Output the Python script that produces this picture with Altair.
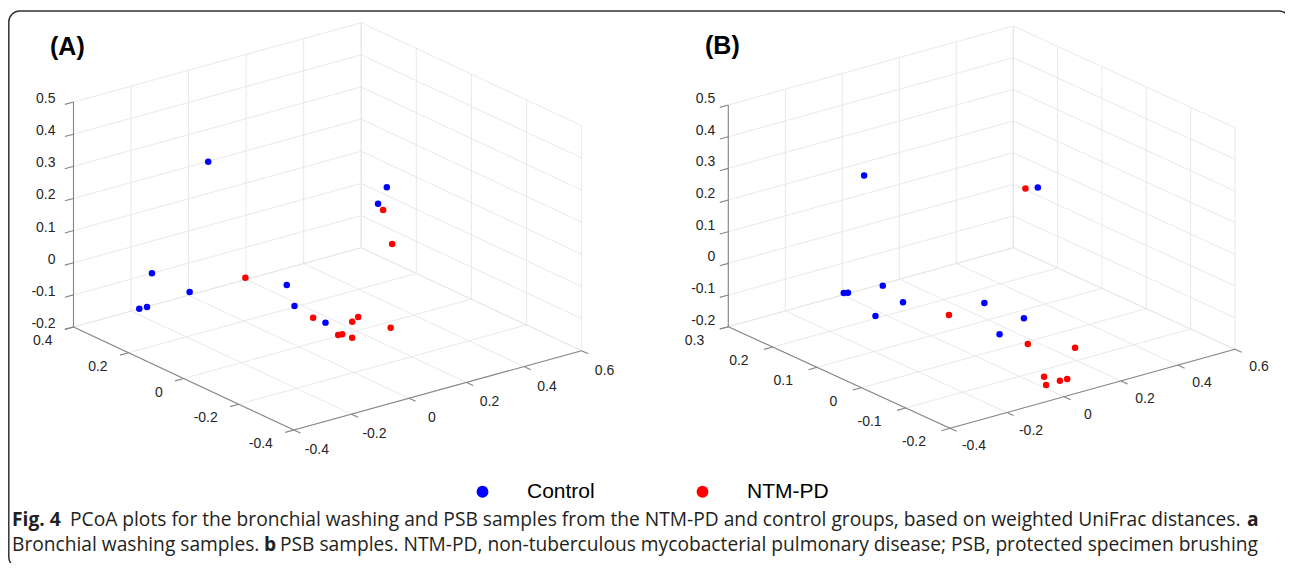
import altair as alt
import pandas as pd

W, H, M = 1277, 555, 8  # chart size and page margin

# ---------------- data ----------------
groups = ["Control", "NTM-PD"]
group_colors = ["#0000ff", "#ff0000"]

# Panel A: bronchial washing samples (PC1, PC2, PC3)
a_ctrl_x = [-0.084, 0.262, 0.241, -0.203, -0.163, -0.246, -0.221, -0.038, 0.031, 0.021]
a_ctrl_y = [0.241, -0.046, -0.036, 0.321, 0.226, 0.322, 0.320, 0.004, 0.048, -0.075]
a_ctrl_z = [0.30, 0.25, 0.20, -0.05, -0.08, -0.15, -0.15, 0.00, -0.10, -0.10]
a_ntm_x = [0.298, 0.384, -0.019, 0.092, 0.159, 0.194, 0.215, 0.066, 0.078, 0.084]
a_ntm_y = [0.005, 0.062, 0.174, 0.044, -0.028, -0.013, -0.109, -0.074, -0.076, -0.106]
a_ntm_z = [0.15, 0.00, -0.05, -0.15, -0.15, -0.15, -0.15, -0.15, -0.15, -0.15]

# Panel B: PSB samples (PC1, PC2, PC3)
b_ctrl_x = [-0.062, 0.336, -0.138, -0.128, -0.093, -0.053, -0.103, 0.122, 0.211, 0.082]
b_ctrl_y = [0.211, 0.075, 0.208, 0.205, 0.149, 0.129, 0.159, 0.058, 0.026, -0.002]
b_ctrl_z = [0.25, 0.20, -0.10, -0.10, -0.05, -0.10, -0.15, -0.10, -0.15, -0.15]
b_ntm_x = [0.305, 0.063, 0.097, 0.182, 0.022, -0.013, 0.037, 0.061]
b_ntm_y = [0.083, 0.100, -0.056, -0.108, -0.141, -0.168, -0.167, -0.168]
b_ntm_z = [0.20, -0.15, -0.15, -0.15, -0.18, -0.18, -0.18, -0.18]

x_ticks = [-0.4, -0.2, 0.0, 0.2, 0.4, 0.6]
x_tick_text = ["-0.4", "-0.2", "0", "0.2", "0.4", "0.6"]
a_y_ticks = [-0.4, -0.2, 0.0, 0.2, 0.4]
a_y_tick_text = ["-0.4", "-0.2", "0", "0.2", "0.4"]
b_y_ticks = [-0.2, -0.1, 0.0, 0.1, 0.2, 0.3]
b_y_tick_text = ["-0.2", "-0.1", "0", "0.1", "0.2", "0.3"]
z_ticks = [-0.2, -0.1, 0.0, 0.1, 0.2, 0.3, 0.4, 0.5]
z_tick_text = ["-0.2", "-0.1", "0", "0.1", "0.2", "0.3", "0.4", "0.5"]

panel_titles = ["(A)", "(B)"]
caption_line1 = ["Fig. 4",
                 "PCoA plots for the bronchial washing and PSB samples from the NTM-PD and control groups, based on weighted UniFrac distances.",
                 "a"]
caption_line2 = ["Bronchial washing samples.", "b",
                 "PSB samples. NTM-PD, non-tuberculous mycobacterial pulmonary disease; PSB, protected specimen brushing"]

# ---------------- view geometry (layout) ----------------
# page position of the box corner at the axis minima, and screen shift per data unit along each axis
VIEWS = {
    "A": dict(ox=293.9, oy=430.0, xv=(287.7, -79.3), yv=(-275.5, -128.75), zv=321.4,
              xt=x_ticks, xl=x_tick_text, yt=a_y_ticks, yl=a_y_tick_text, zt=z_ticks, zl=z_tick_text,
              zdx=-18, zdy=-3, ydx=-21, ydy=14, xdx=23, xdy=20,
              pts=[("Control", a_ctrl_x, a_ctrl_y, a_ctrl_z), ("NTM-PD", a_ntm_x, a_ntm_y, a_ntm_z)]),
    "B": dict(ox=950.0, oy=428.3, xv=(285.0, -79.0), yv=(-443.4, -203.2), zv=316.7,
              xt=x_ticks, xl=x_tick_text, yt=b_y_ticks, yl=b_y_tick_text, zt=z_ticks, zl=z_tick_text,
              zdx=-13, zdy=-6, ydx=-24, ydy=14, xdx=24, xdy=18,
              pts=[("Control", b_ctrl_x, b_ctrl_y, b_ctrl_z), ("NTM-PD", b_ntm_x, b_ntm_y, b_ntm_z)]),
}

xs = alt.Scale(domain=[0, W], nice=False, zero=False)
ys = alt.Scale(domain=[0, H], reverse=True, nice=False, zero=False)

TICK_FONT = "Liberation Sans"
CAP_FONT = "Open Sans"
CAP_SIZE = 19.2


def proj_exprs(v, X, Y, Z):
    x0, y0, z0 = min(v["xt"]), min(v["yt"]), min(v["zt"])
    ex = (f"{v['ox'] - M} + (datum.{X} - ({x0})) * {v['xv'][0]}"
          f" + (datum.{Y} - ({y0})) * {v['yv'][0]}")
    ey = (f"{v['oy'] - M} + (datum.{X} - ({x0})) * {v['xv'][1]}"
          f" + (datum.{Y} - ({y0})) * {v['yv'][1]} - (datum.{Z} - ({z0})) * {v['zv']}")
    return ex, ey


def seg(x1, y1, z1, x2, y2, z2):
    return dict(X1=x1, Y1=y1, Z1=z1, X2=x2, Y2=y2, Z2=z2)


def rule_layer(rows, v, color, width):
    df = pd.DataFrame(rows)
    ex1, ey1 = proj_exprs(v, "X1", "Y1", "Z1")
    ex2, ey2 = proj_exprs(v, "X2", "Y2", "Z2")
    return (alt.Chart(df)
            .transform_calculate(sx1=ex1, sy1=ey1, sx2=ex2, sy2=ey2)
            .mark_rule(color=color, strokeWidth=width)
            .encode(x=alt.X("sx1:Q", scale=xs, axis=None),
                    y=alt.Y("sy1:Q", scale=ys, axis=None),
                    x2="sx2:Q", y2="sy2:Q"))


def label_layer(rows, v, align, dx, dy):
    df = pd.DataFrame(rows)
    ex, ey = proj_exprs(v, "X", "Y", "Z")
    return (alt.Chart(df)
            .transform_calculate(sx=ex, sy=ey)
            .mark_text(align=align, baseline="middle", dx=dx, dy=dy,
                       font=TICK_FONT, fontSize=14, color="#262626")
            .encode(x=alt.X("sx:Q", scale=xs, axis=None),
                    y=alt.Y("sy:Q", scale=ys, axis=None),
                    text="label:N"))


legend = alt.Legend(title=None, orient="none", legendX=464, legendY=473,
                    direction="horizontal", symbolType="circle", symbolSize=140,
                    symbolStrokeWidth=0, labelFont=TICK_FONT, labelFontSize=21,
                    labelColor="#000000", labelOffset=34, columnPadding=97, padding=0)

layers = []
point_layers = []
for name, v in VIEWS.items():
    xt, yt, zt = v["xt"], v["yt"], v["zt"]
    lx, hx, ly, hy, lz, hz = min(xt), max(xt), min(yt), max(yt), min(zt), max(zt)
    grid = []
    for a in xt:
        grid.append(seg(a, hy, lz, a, hy, hz))
        grid.append(seg(a, ly, lz, a, hy, lz))
    for b in yt:
        grid.append(seg(hx, b, lz, hx, b, hz))
        grid.append(seg(lx, b, lz, hx, b, lz))
    for c in zt:
        grid.append(seg(lx, hy, c, hx, hy, c))
        grid.append(seg(hx, ly, c, hx, hy, c))
    axes = [seg(lx, hy, lz, lx, hy, hz), seg(lx, ly, lz, lx, hy, lz), seg(lx, ly, lz, hx, ly, lz)]
    tl = 0.03
    ticks = ([seg(lx, hy, c, lx - tl * (hx - lx), hy, c) for c in zt]
             + [seg(lx, b, lz, lx - tl * (hx - lx), b, lz) for b in yt]
             + [seg(a, ly, lz, a, ly - tl * (hy - ly), lz) for a in xt])
    layers.append(rule_layer(grid, v, "#e3e3e3", 0.8))
    layers.append(rule_layer(axes, v, "#858585", 1.1))
    layers.append(rule_layer(ticks, v, "#858585", 1.1))
    layers.append(label_layer([dict(X=lx, Y=hy, Z=c, label=t) for c, t in zip(zt, v["zl"])],
                              v, "right", v["zdx"], v["zdy"]))
    layers.append(label_layer([dict(X=lx, Y=b, Z=lz, label=t) for b, t in zip(yt, v["yl"])],
                              v, "right", v["ydx"], v["ydy"]))
    layers.append(label_layer([dict(X=a, Y=ly, Z=lz, label=t) for a, t in zip(xt, v["xl"])],
                              v, "center", v["xdx"], v["xdy"]))
    rows = []
    for g, px, py, pz in v["pts"]:
        for a, b, c in zip(px, py, pz):
            rows.append(dict(group=g, X=a, Y=b, Z=c))
    ex, ey = proj_exprs(v, "X", "Y", "Z")
    point_layers.append(
        alt.Chart(pd.DataFrame(rows))
        .transform_calculate(sx=ex, sy=ey)
        .mark_circle(size=42, opacity=1)
        .encode(x=alt.X("sx:Q", scale=xs, axis=None),
                y=alt.Y("sy:Q", scale=ys, axis=None),
                color=alt.Color("group:N", scale=alt.Scale(domain=groups, range=group_colors),
                                legend=legend))
    )

titles = [
    alt.Chart().mark_text(text=panel_titles[0], align="left", baseline="middle", font=TICK_FONT,
                          fontSize=25, fontWeight="bold", color="#000000")
    .encode(x=alt.value(42), y=alt.value(39)),
    alt.Chart().mark_text(text=panel_titles[1], align="left", baseline="middle", font=TICK_FONT,
                          fontSize=25, fontWeight="bold", color="#000000")
    .encode(x=alt.value(697), y=alt.value(38)),
]


def cap(text, x, y, bold=False):
    return (alt.Chart().mark_text(text=text, align="left", baseline="middle", font=CAP_FONT,
                                  fontSize=CAP_SIZE, fontWeight="bold" if bold else "normal",
                                  color="#231f20")
            .encode(x=alt.value(x), y=alt.value(y)))


caption = [
    cap(caption_line1[0], 4, 512, True),
    cap(caption_line1[1], 62, 512),
    cap(caption_line1[2], 1239, 512, True),
    cap(caption_line2[0], 4, 537),
    cap(caption_line2[1], 256, 537, True),
    cap(caption_line2[2], 272, 537),
]

border = (alt.Chart().mark_rect(cornerRadius=11, fillOpacity=0, stroke="#333333", strokeWidth=1.5)
          .encode(x=alt.value(0.8), x2=alt.value(1282), y=alt.value(3), y2=alt.value(560)))

chart = (alt.layer(border, *layers, *point_layers, *titles, *caption)
         .properties(width=W, height=H, padding=0, background="white",
                     autosize=alt.AutoSizeParams(type="none"))
         .configure_view(stroke=None))

chart.save("out.html", embed_options={"renderer": "svg", "actions": False})
